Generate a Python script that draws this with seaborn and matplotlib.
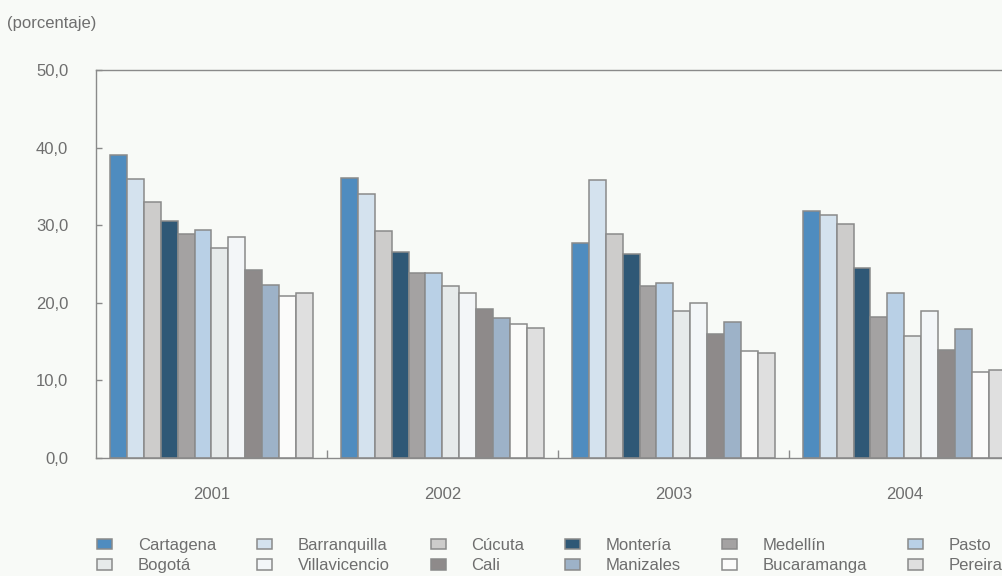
"""
Tasa de desempleo por ciudad, 2001-2004 (porcentaje).
Grouped bar chart, one group per year, one bar per city.
"""

import pandas as pd
import matplotlib
matplotlib.use("Agg")
import matplotlib.pyplot as plt
from matplotlib.ticker import FixedLocator, FuncFormatter
import seaborn as sns


# ---------- Data ----------
YEARS = ["2001", "2002", "2003", "2004"]
CITIES = ["Cartagena", "Barranquilla", "Cúcuta", "Montería", "Medellín", "Pasto",
          "Bogotá", "Villavicencio", "Cali", "Manizales", "Bucaramanga", "Pereira"]

VALUES = {
    "Cartagena":     [39.0, 36.1, 27.7, 31.8],
    "Barranquilla":  [35.9, 34.0, 35.8, 31.3],
    "Cúcuta":        [33.0, 29.3, 28.8, 30.2],
    "Montería":      [30.5, 26.5, 26.3, 24.5],
    "Medellín":      [28.9, 23.8, 22.2, 18.2],
    "Pasto":         [29.4, 23.8, 22.5, 21.2],
    "Bogotá":        [27.0, 22.2, 19.0, 15.7],
    "Villavicencio": [28.5, 21.3, 20.0, 19.0],
    "Cali":          [24.2, 19.2, 16.0, 13.9],
    "Manizales":     [22.3, 18.1, 17.5, 16.6],
    "Bucaramanga":   [20.9, 17.3, 13.8, 11.1],
    "Pereira":       [21.3, 16.7, 13.5, 11.4],
}

COLORS = ["#4f8cbf", "#d4e2ee", "#cdcccb", "#2f5876", "#a4a2a2", "#b9d0e6",
          "#e6eaea", "#f3f6f8", "#8e8a8a", "#9db2c8", "#fbfbfa", "#dfdfdf"]

Y_TICKS = [0, 10, 20, 30, 40, 50]

BG = "#f8faf7"
TEXT = "#6e6e6e"
EDGE = "#8a8a8a"


def build_frame() -> pd.DataFrame:
    rows = []
    for city in CITIES:
        for year, val in zip(YEARS, VALUES[city]):
            rows.append({"year": year, "city": city, "value": val})
    return pd.DataFrame(rows)


def main():
    df = build_frame()

    sns.set_style("white")
    plt.rcParams["font.family"] = ["Liberation Sans", "DejaVu Sans"]

    fig = plt.figure(figsize=(10.02, 5.76), dpi=100, facecolor=BG)
    ax = fig.add_axes([0.0958, 0.2049, 0.922, 0.6736], facecolor=BG)

    sns.barplot(data=df, x="year", y="value", hue="city", order=YEARS,
                hue_order=CITIES, palette=COLORS, width=0.88, saturation=1,
                edgecolor=EDGE, linewidth=1.1, ax=ax, legend=True)

    ax.set_xlim(-0.5, 3.5)
    ax.set_ylim(0, 50)
    ax.set_xlabel("")
    ax.set_ylabel("")

    for side in ["top", "left", "bottom", "right"]:
        ax.spines[side].set_color(EDGE)
        ax.spines[side].set_linewidth(1.0)

    # y axis: short inner ticks, comma decimals
    ax.yaxis.set_major_locator(FixedLocator(Y_TICKS))
    ax.yaxis.set_major_formatter(FuncFormatter(lambda v, p: f"{v:.1f}".replace(".", ",")))
    ax.tick_params(axis="y", direction="in", length=4, width=1, color=EDGE,
                   pad=20, labelsize=12, labelcolor=TEXT, left=True)

    # x axis: labels at group centres, small ticks between groups
    ax.tick_params(axis="x", which="major", length=0, pad=21,
                   labelsize=12, labelcolor=TEXT)
    ax.xaxis.set_minor_locator(FixedLocator([0.5, 1.5, 2.5]))
    ax.tick_params(axis="x", which="minor", direction="in", length=6,
                   width=1, color=EDGE, bottom=True)

    fig.text(0.007, 0.960, "(porcentaje)", fontsize=12, color=TEXT,
             ha="left", va="center")

    # legend: 2 rows x 6 columns, filled row by row
    handles, labels = ax.get_legend_handles_labels()
    ax.get_legend().remove()
    order = [i + r * 6 for i in range(6) for r in range(2)]
    fig.legend([handles[i] for i in order], [labels[i] for i in order],
               ncol=6, loc="upper left", bbox_to_anchor=(0.0968, 0.066),
               frameon=False, fontsize=12, labelcolor=TEXT,
               handlelength=0.9, handleheight=0.6, handletextpad=1.55,
               columnspacing=2.45, labelspacing=0.32, borderpad=0,
               borderaxespad=0)

    fig.savefig("out.png", dpi=100, facecolor=BG)
    plt.close(fig)


if __name__ == "__main__":
    main()
